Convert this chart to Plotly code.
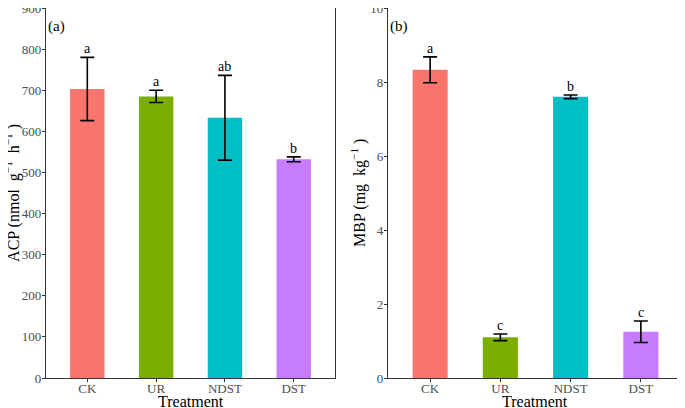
import plotly.graph_objects as go

# data
treatments = ["CK", "UR", "NDST", "DST"]
colors = ["#F8766D", "#7CAE00", "#00BFC4", "#C77CFF"]

acp_mean = [703, 685, 633, 532]
acp_err = [77, 15, 103, 6]
acp_letters = ["a", "a", "ab", "b"]

mbp_mean = [8.33, 1.10, 7.60, 1.25]
mbp_err = [0.35, 0.09, 0.05, 0.29]
mbp_letters = ["a", "c", "b", "c"]

serif = "Liberation Serif"

fig = go.Figure()

fig.add_trace(go.Bar(
    x=treatments, y=acp_mean, marker_color=colors, width=0.5,
    marker_line_width=0, xaxis="x", yaxis="y", showlegend=False,
    error_y=dict(type="data", array=acp_err, color="black", thickness=1.6, width=7),
))
fig.add_trace(go.Bar(
    x=treatments, y=mbp_mean, marker_color=colors, width=0.5,
    marker_line_width=0, xaxis="x2", yaxis="y2", showlegend=False,
    error_y=dict(type="data", array=mbp_err, color="black", thickness=1.6, width=7),
))

# significance letters
for t, m, e, l in zip(treatments, acp_mean, acp_err, acp_letters):
    fig.add_annotation(x=t, y=m + e, text=l, xref="x", yref="y", showarrow=False,
                       yanchor="bottom", yshift=-1, font=dict(family=serif, size=14, color="black"))
for t, m, e, l in zip(treatments, mbp_mean, mbp_err, mbp_letters):
    fig.add_annotation(x=t, y=m + e, text=l, xref="x2", yref="y2", showarrow=False,
                       yanchor="bottom", yshift=-1, font=dict(family=serif, size=14, color="black"))

fig.add_annotation(x=0, y=0.95, xref="x domain", yref="y domain", text="(a)", showarrow=False,
                   xanchor="left", yanchor="middle", font=dict(family=serif, size=15, color="black"))
fig.add_annotation(x=0, y=0.95, xref="x2 domain", yref="y2 domain", text="(b)", showarrow=False,
                   xanchor="left", yanchor="middle", font=dict(family=serif, size=15, color="black"))

title_font = dict(family=serif, size=16, color="black")

# axis titles placed as annotations (no automargin with zero margins)
for xr, yr in [("x domain", "y domain"), ("x2 domain", "y2 domain")]:
    fig.add_annotation(x=0.5, y=-0.064, xref=xr, yref=yr, text="Treatment", showarrow=False,
                       xanchor="center", yanchor="middle", font=title_font)
fig.add_annotation(x=-0.118, y=0.5, xref="x domain", yref="y domain",
                   text="ACP (nmol  g<sup>−1</sup>  h<sup>−1</sup> )", textangle=-90,
                   showarrow=False, xanchor="center", yanchor="middle", font=title_font)
fig.add_annotation(x=-0.102, y=0.5, xref="x2 domain", yref="y2 domain",
                   text="MBP (mg  kg<sup>−1</sup> )", textangle=-90,
                   showarrow=False, xanchor="center", yanchor="middle", font=title_font)

axis_common = dict(
    showgrid=False, zeroline=False, showline=True, mirror=True,
    linecolor="#333333", linewidth=1.2,
    ticks="outside", ticklen=3, tickcolor="#333333",
    tickfont=dict(family=serif, size=13, color="#4D4D4D"),
    ticklabeloverflow="allow", automargin=False,
)

# page body adds an 8px offset, so domains are shifted to compensate
fig.update_layout(
    width=685, height=408,
    margin=dict(l=0, r=0, t=0, b=0, autoexpand=False),
    paper_bgcolor="white", plot_bgcolor="white",
    font=dict(family=serif),
    xaxis=dict(domain=[0.0555, 0.4774], range=[-0.6, 3.6], ticklabelstandoff=-5,
               anchor="y", **axis_common),
    yaxis=dict(domain=[0.0931, 1.0], range=[0, 900], dtick=100, ticklabelstandoff=-2,
               anchor="x", **axis_common),
    xaxis2=dict(domain=[0.5547, 0.9854], range=[-0.6, 3.6], ticklabelstandoff=-5,
                anchor="y2", **axis_common),
    yaxis2=dict(domain=[0.0931, 1.0], range=[0, 10], dtick=2, ticklabelstandoff=-2,
                anchor="x2", **axis_common),
)

fig.write_html("out.html")
